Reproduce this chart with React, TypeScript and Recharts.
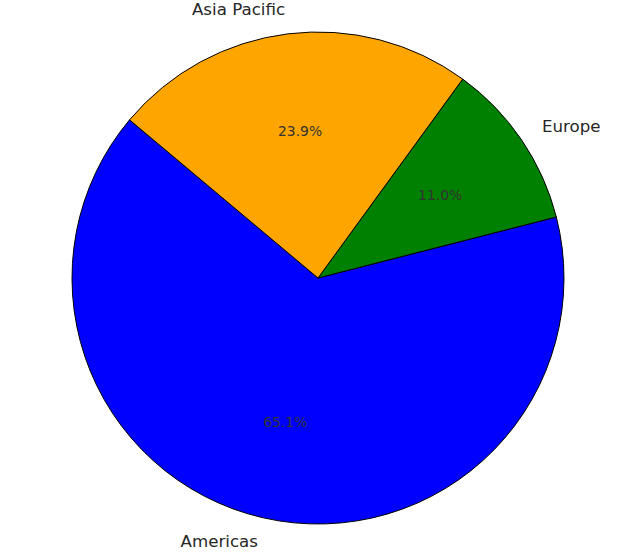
import React from "react";
import { PieChart, Pie, Cell } from "recharts";

const regions = ["Americas", "Europe", "Asia Pacific"];
const shares = [65.1, 11.0, 23.9];
const colors = ["#0000ff", "#008000", "#ffa500"];

const data = regions.map((name, i) => ({ name, value: shares[i] }));

const RADIAN = Math.PI / 180;

const renderLabel = (props: any) => {
  const { cx, cy, midAngle, outerRadius, percent, name } = props;
  const cos = Math.cos(-midAngle * RADIAN);
  const sin = Math.sin(-midAngle * RADIAN);
  const lx = cx + outerRadius * 1.1 * cos;
  const ly = cy + outerRadius * 1.1 * sin;
  const px = cx + outerRadius * 0.6 * cos;
  const py = cy + outerRadius * 0.6 * sin;
  return (
    <g>
      <text
        x={lx}
        y={ly}
        textAnchor={cos >= 0 ? "start" : "end"}
        dominantBaseline="central"
        fill="#262626"
        fontSize={16.67}
        fontFamily="DejaVu Sans"
      >
        {name}
      </text>
      <text
        x={px}
        y={py}
        textAnchor="middle"
        dominantBaseline="central"
        fill="#333333"
        fontSize={13.89}
        fontFamily="DejaVu Sans"
      >
        {(percent * 100).toFixed(1) + "%"}
      </text>
    </g>
  );
};

export default function App() {
  return (
    <div style={{ position: "absolute", left: 0, top: 0, width: 640, height: 560, background: "#fff" }}>
      <PieChart width={640} height={560} margin={{ top: 0, right: 0, bottom: 0, left: 0 }}>
        <Pie
          data={data}
          dataKey="value"
          nameKey="name"
          cx={318}
          cy={278}
          outerRadius={246}
          startAngle={140}
          endAngle={500}
          stroke="#000000"
          strokeWidth={1}
          label={renderLabel}
          labelLine={false}
          isAnimationActive={false}
        >
          {data.map((d, i) => (
            <Cell key={d.name} fill={colors[i]} />
          ))}
        </Pie>
      </PieChart>
    </div>
  );
}
